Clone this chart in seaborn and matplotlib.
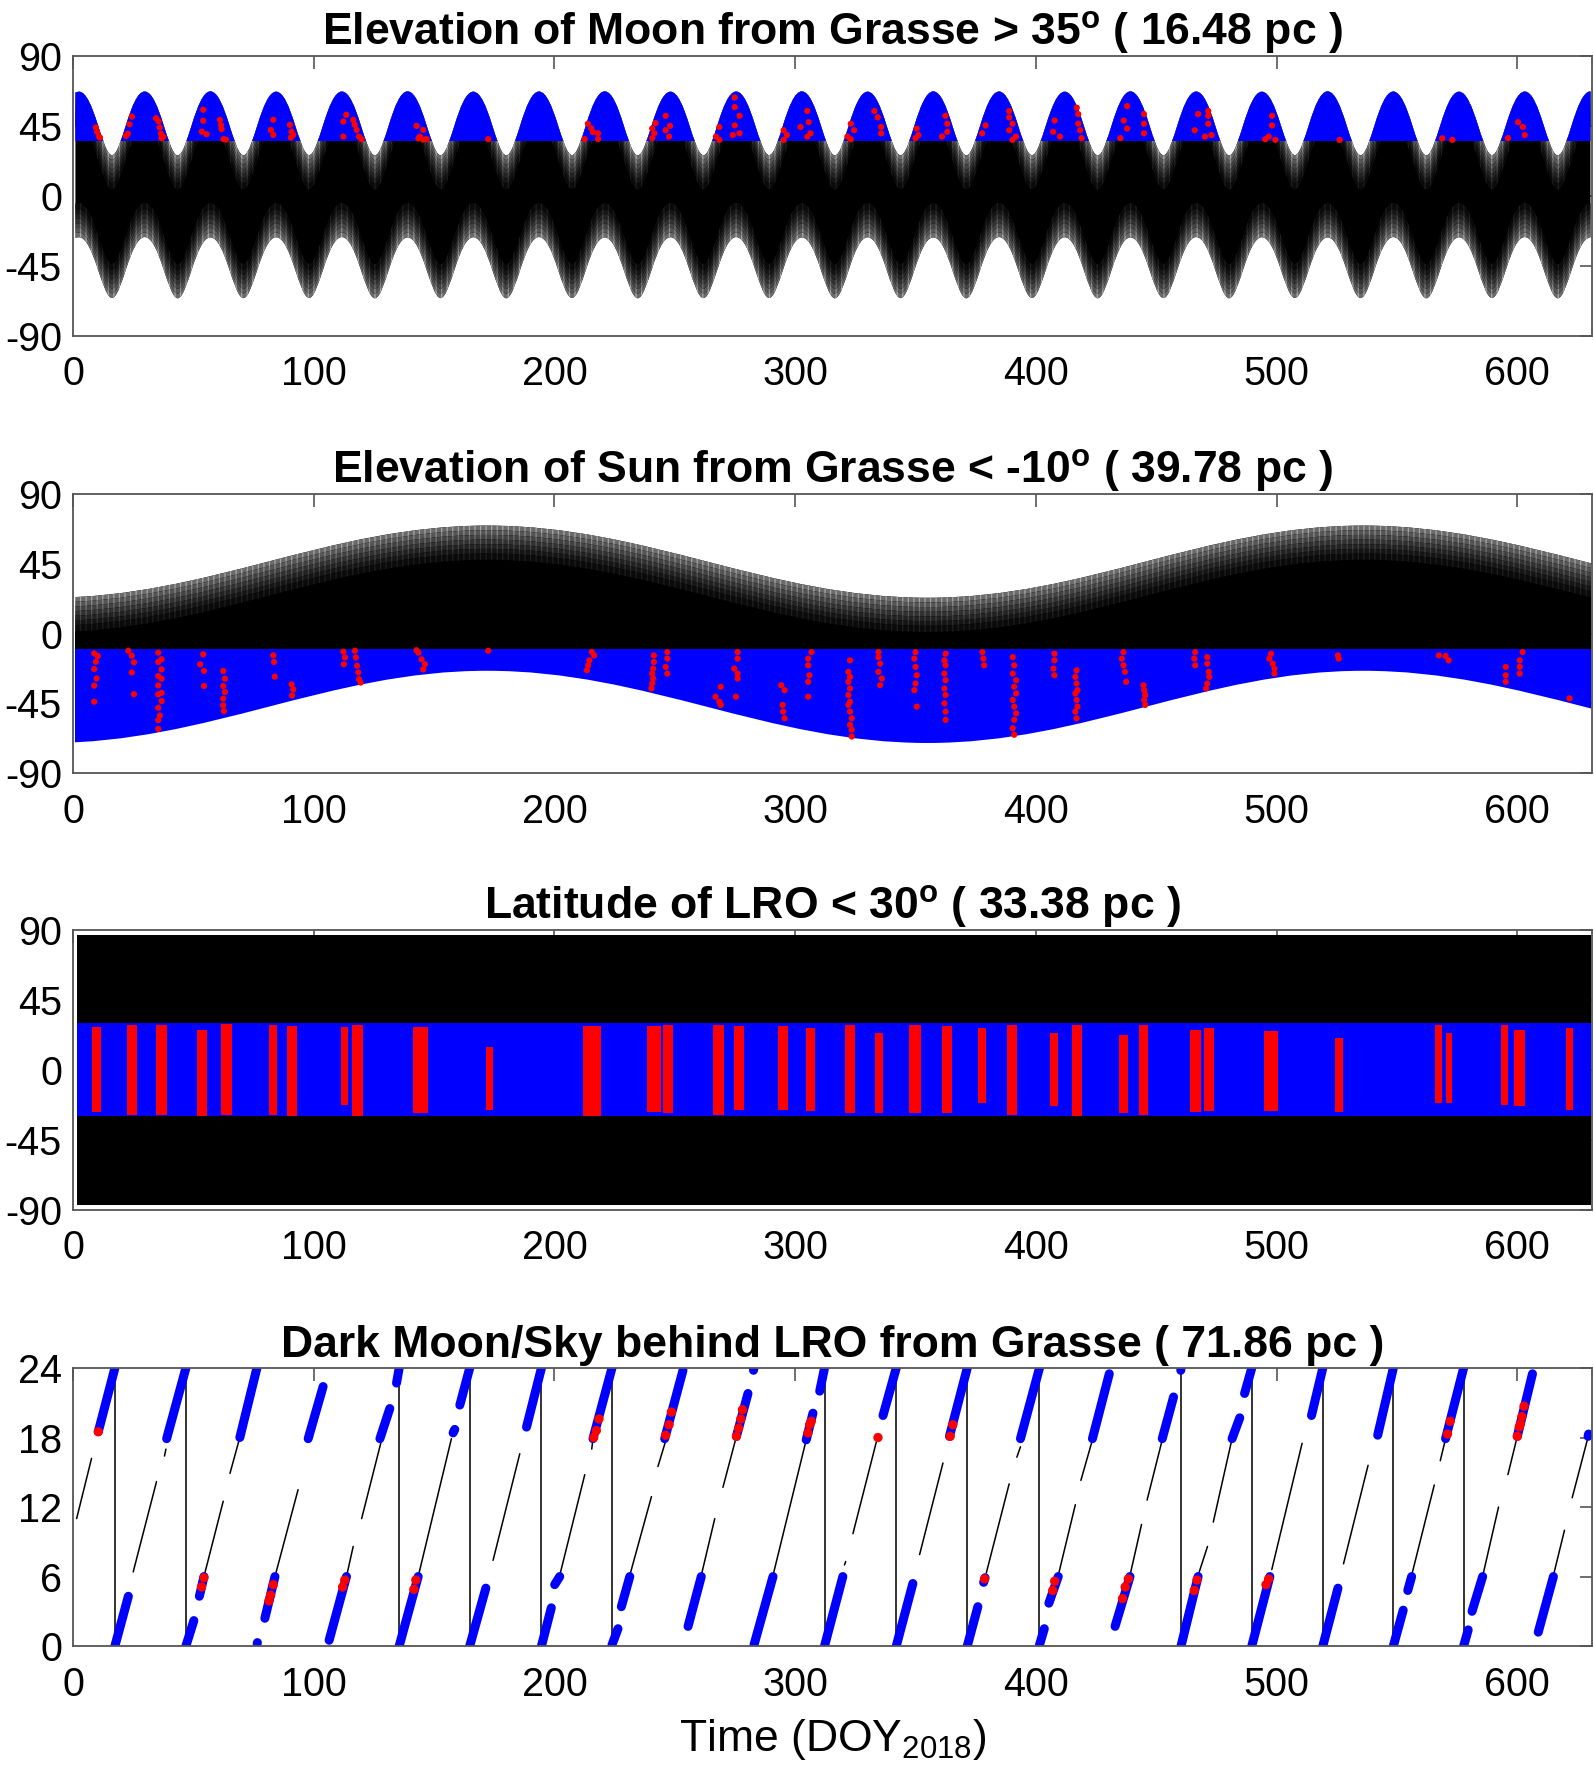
import matplotlib
matplotlib.use("Agg")
import matplotlib.pyplot as plt
import numpy as np
import pandas as pd
import seaborn as sns
from matplotlib.path import Path
from matplotlib.patches import PathPatch, Rectangle

# ------------------------------------------------------------------ data
# Panel 1 : Moon elevation, envelope extremes (day, deg)
moon_ext_t = [1.0, 2.5, 16.2, 29.8, 43.5, 57.1, 70.8, 84.4, 98.1, 111.7, 125.4, 139.0, 152.7,
              166.3, 180.0, 193.6, 207.3, 220.9, 234.6, 248.2, 261.9, 275.5, 289.2, 302.8,
              316.5, 330.1, 343.8, 357.4, 371.1, 384.7, 398.4, 412.0, 425.7, 439.3, 453.0,
              466.6, 480.3, 493.9, 507.6, 521.2, 534.9, 548.5, 562.2, 575.8, 589.5, 603.1,
              616.8, 630.4]
moon_upper = [66.5, 67.0, 26.2, 67.1, 26.0, 67.2, 26.1, 67.0, 26.2, 67.1, 26.0, 67.2, 26.1,
              67.0, 26.0, 67.1, 26.2, 67.2, 26.0, 67.0, 26.1, 67.1, 26.2, 67.2, 26.0, 67.0,
              26.1, 67.2, 26.0, 67.1, 26.2, 67.0, 26.0, 67.2, 26.1, 67.1, 26.0, 67.0, 26.2,
              67.2, 26.1, 67.1, 26.0, 67.0, 26.2, 67.1, 26.0, 67.2]
moon_lower = [-27.0, -26.7, -65.8, -26.6, -66.0, -26.8, -65.9, -26.7, -65.8, -26.6, -66.0,
              -26.8, -65.9, -26.7, -66.0, -26.6, -65.8, -26.8, -66.0, -26.7, -65.9, -26.6,
              -65.8, -26.8, -66.0, -26.7, -65.9, -26.8, -66.0, -26.6, -65.8, -26.7, -66.0,
              -26.8, -65.9, -26.6, -66.0, -26.7, -65.8, -26.8, -65.9, -26.6, -66.0, -26.7,
              -65.8, -26.6, -66.0, -26.8]
moon_limit = 35
moon_red_t = [9.5, 10.0, 10.8, 11.2, 24.5, 23.5, 22.8, 22.0, 34.5, 35.5, 36.0, 36.5, 37.5, 36.8,
              54.1, 54.1, 53.5, 55.5, 61.0, 61.7, 62.5, 63.5, 61.5,
              83.2, 82.2, 83.2, 90.1, 90.8, 91.5, 90.5,
              113.5, 112.3, 112.3, 116.4, 117.0, 117.8, 118.8, 119.9,
              142.7, 145.5, 144.1, 145.5, 146.9, 143.5, 172.5,
              213.9, 215.3, 218.1, 212.5, 218.1, 216.0,
              246.2, 242.0, 246.2, 240.6, 240.6, 247.6, 241.5, 248.0,
              274.9, 274.9, 276.9, 268.5, 274.9, 276.9, 267.1, 268.5, 274.1,
              305.0, 305.6, 302.2, 295.2, 296.6, 306.4, 305.0, 295.2,
              332.9, 334.3, 323.1, 324.5, 321.7, 335.7, 335.7, 323.1,
              350.5, 351.2, 362.4, 363.2, 363.2, 361.0, 350.0,
              379.1, 377.7, 388.9, 388.9, 390.3, 388.9, 391.7, 390.3,
              407.8, 407.2, 417.0, 417.6, 417.6, 418.4, 419.0, 410.0,
              437.9, 436.5, 437.9, 444.9, 444.9, 444.9, 435.1,
              467.4, 471.6, 471.6, 471.6, 466.0, 473.0, 470.2,
              498.1, 498.1, 496.7, 499.5, 495.3, 526.2, 568.8, 573.0,
              600.3, 602.3, 603.1, 596.1]
moon_red_el = [44.0, 41.0, 38.0, 37.5, 51.0, 46.0, 40.0, 38.5, 50.0, 48.0, 44.0, 40.0, 38.0, 37.0,
               55.4, 48.3, 41.3, 39.6, 48.9, 42.9, 36.5, 36.2, 45.5,
               48.9, 42.4, 39.2, 45.7, 41.3, 39.2, 37.5,
               52.2, 47.8, 38.1, 48.9, 45.7, 42.4, 38.1, 36.4,
               45.0, 42.4, 38.1, 36.2, 36.5, 37.0, 36.5,
               46.4, 43.3, 40.2, 36.5, 36.5, 41.0,
               51.5, 46.8, 42.2, 43.3, 37.1, 38.1, 40.2, 45.0,
               63.3, 57.1, 51.5, 44.3, 45.3, 40.2, 38.1, 36.0, 39.1,
               54.6, 47.4, 44.3, 42.2, 39.1, 40.2, 38.1, 36.0,
               54.6, 50.5, 46.4, 42.2, 38.1, 44.3, 40.2, 36.4,
               43.3, 39.1, 51.5, 46.4, 41.2, 38.1, 37.1,
               45.3, 40.2, 54.6, 50.5, 46.4, 42.2, 38.1, 36.0,
               48.4, 41.2, 56.7, 52.6, 46.4, 42.2, 37.1, 38.1,
               57.7, 48.4, 43.3, 52.6, 46.4, 40.2, 37.1,
               52.6, 54.6, 51.5, 46.4, 42.2, 39.1, 38.1,
               51.5, 45.3, 38.1, 36.0, 36.4, 36.0, 37.0, 36.0,
               47.4, 44.3, 39.1, 37.1]

# Panel 2 : Sun elevation, envelope extremes
sun_ext_t = [-10, 172, 355, 536, 720]
sun_upper = [23.0, 69.5, 23.0, 69.5, 23.0]
sun_lower = [-70.5, -24.0, -70.5, -24.0, -70.5]
sun_span = [0.8, 630.8]
sun_limit = -10
sun_red_t = [8.8, 10.3, 9.5, 8.8, 9.8, 8.8, 8.8, 23.0, 24.4, 25.3, 24.4, 25.3,
             35.4, 36.8, 35.4, 36.8, 35.4, 36.8, 35.4, 36.8, 35.4, 36.8, 35.4, 36.1, 35.4, 35.4,
             54.1, 52.8, 54.4, 54.4, 62.4, 63.1, 62.4, 63.1, 62.4, 62.4, 62.7,
             83.2, 83.5, 83.8, 90.8, 91.5, 91.0, 112.3, 113.0, 112.5,
             117.1, 117.5, 118.0, 118.5, 118.8, 119.5, 142.7, 143.5, 144.8, 146.2, 145.5, 172.5,
             215.5, 216.5, 214.5, 214.0, 213.5,
             241.3, 241.3, 241.0, 240.6, 241.0, 240.6, 240.3, 246.9, 246.9, 246.2, 246.9,
             276.1, 276.1, 274.7, 276.1, 276.1, 269.1, 266.9, 268.5, 269.1, 275.4,
             306.8, 305.4, 305.4, 305.9, 305.4, 305.4, 294.2, 295.6, 294.8, 295.0, 295.6,
             322.1, 322.8, 322.1, 322.8, 322.1, 322.8, 322.1, 322.8, 323.5, 322.8, 323.5, 323.5, 322.8,
             334.6, 334.6, 335.3, 334.6, 336.0, 335.3,
             350.0, 349.5, 350.0, 350.5, 350.0, 349.5, 350.5,
             362.5, 362.0, 362.5, 362.0, 362.5, 362.0, 362.5, 362.0, 362.5, 362.5,
             377.8, 378.2, 378.5,
             390.4, 391.0, 390.4, 391.8, 391.0, 391.8, 390.4, 391.0, 391.8, 391.0, 390.4, 391.0,
             407.7, 407.7, 407.3, 407.7,
             416.9, 416.4, 416.9, 417.3, 416.4, 416.9, 417.3, 416.4, 416.9,
             436.4, 435.7, 436.4, 437.0, 437.5, 444.7, 445.0, 445.4, 445.0, 445.4,
             466.2, 465.8, 466.2, 471.2, 471.2, 471.8, 472.0, 471.2, 470.7,
             497.7, 497.0, 498.4, 499.1, 499.1, 525.5, 525.8, 567.4, 571.5, 570.2,
             602.2, 601.0, 601.0, 595.2, 595.2, 595.2, 601.0, 621.7]
sun_red_el = [-12.8, -14.5, -18.2, -22.9, -28.9, -33.6, -43.9, -11.1, -14.3, -18.6, -25.1, -39.1,
              -12.3, -16.6, -18.3, -23.1, -27.4, -29.1, -33.4, -38.2, -39.2, -43.5, -47.8, -52.8, -55.8, -61.4,
              -13.4, -19.8, -24.1, -33.8, -24.1, -29.1, -33.8, -37.7, -42.0, -46.3, -50.0,
              -14.0, -18.3, -27.8, -32.8, -36.0, -39.9, -11.7, -15.4, -19.8,
              -11.1, -15.4, -20.8, -25.1, -29.4, -31.6, -10.8, -12.3, -16.6, -19.8, -23.1, -11.1,
              -11.9, -14.1, -17.3, -20.5, -23.7,
              -14.1, -18.3, -22.6, -25.8, -29.0, -32.2, -35.4, -12.0, -16.2, -21.5, -25.8,
              -12.0, -16.2, -22.6, -25.8, -29.0, -34.3, -40.7, -43.9, -46.0, -40.7,
              -12.0, -16.2, -20.5, -26.9, -31.1, -40.7, -33.3, -36.5, -46.0, -50.3, -54.6,
              -24.7, -27.9, -31.1, -35.4, -39.6, -43.9, -46.0, -50.3, -54.6, -58.8, -62.0, -66.3, -17.3,
              -12.0, -15.2, -19.4, -24.7, -29.0, -33.3,
              -12.0, -16.2, -21.5, -26.9, -32.2, -36.5, -47.1,
              -13.0, -17.3, -20.5, -25.8, -30.1, -35.4, -39.6, -45.0, -50.3, -55.6,
              -12.0, -16.2, -20.5,
              -15.2, -20.5, -25.8, -30.1, -34.3, -38.6, -42.8, -47.1, -51.4, -55.6, -61.0, -65.2,
              -13.0, -17.3, -22.6, -26.9,
              -23.7, -27.9, -32.2, -36.5, -38.6, -42.8, -47.1, -50.3, -54.6,
              -12.0, -16.2, -20.5, -24.7, -31.1, -33.3, -36.5, -39.6, -42.8, -46.0,
              -12.0, -16.2, -20.5, -15.2, -19.4, -24.7, -27.9, -32.2, -35.4,
              -13.0, -16.2, -19.4, -22.6, -25.8, -14.1, -16.2, -14.1, -17.3, -14.5,
              -12.0, -17.3, -21.5, -21.5, -26.9, -31.1, -25.8, -41.8]

# Panel 3 : LRO latitude
lro_span_t = [1.5, 630.5]
lro_extent = 86.8
lro_limit = 30
lro_red_t0 = [7.7, 22.3, 34.5, 51.4, 61.5, 81.5, 89.1, 111.3, 116.1, 141.3, 171.5, 212.0, 238.5,
              244.9, 265.8, 274.7, 292.8, 304.5, 320.7, 333.3, 347.2, 361.1, 375.9, 388.2,
              405.7, 414.9, 434.4, 442.8, 464.2, 469.8, 494.9, 524.2, 566.0, 570.2, 593.3,
              598.6, 620.3]
lro_red_t1 = [11.6, 26.4, 38.9, 55.5, 65.9, 84.6, 93.1, 114.3, 120.5, 147.5, 174.5, 219.5, 244.1,
              249.1, 270.5, 278.9, 297.0, 308.2, 324.9, 336.6, 352.2, 365.3, 379.2, 392.3,
              409.1, 419.1, 438.3, 446.4, 468.4, 474.0, 500.5, 527.5, 568.8, 573.0, 596.1,
              603.0, 623.1]
lro_red_lo = [-27.0, -29.0, -29.0, -30.0, -29.0, -29.0, -30.0, -22.5, -30.0, -27.9, -25.7, -29.5,
              -27.4, -27.8, -28.9, -25.7, -25.7, -26.8, -27.8, -27.8, -27.8, -27.8, -21.4, -28.9,
              -23.5, -29.5, -27.8, -28.9, -27.4, -26.8, -26.8, -27.4, -21.4, -21.4, -22.5,
              -23.5, -25.7]
lro_red_hi = [27.8, 28.9, 28.9, 25.7, 29.5, 28.9, 28.3, 27.8, 28.9, 27.8, 15.0, 27.9, 28.3,
              29.0, 29.0, 28.3, 27.9, 26.8, 29.0, 23.6, 29.0, 27.9, 26.8, 29.0, 23.6, 29.0,
              22.5, 29.0, 25.7, 26.8, 24.7, 20.4, 29.0, 23.6, 29.0, 25.7, 26.8]

# Panel 4 : dark Moon/sky (hour); segments as (t0, h0, t1, h1)
dark_wrap_t = [17.4, 46.9, 135.5, 164.8, 194.6, 223.9, 312.2, 342.0, 371.5, 401.5,
               460.3, 489.7, 519.2, 548.5, 577.7]
dark_blue_segments = [
    (10.5, 18.5, 17.4, 24.0), (17.4, 0.0, 23.0, 4.3), (38.9, 17.9, 46.9, 24.0),
    (46.9, 0.0, 50.2, 2.2), (52.5, 4.3, 54.4, 6.0), (69.3, 18.0, 76.4, 24.0),
    (76.5, 0.2, 76.6, 0.3), (79.7, 2.4, 83.9, 6.0), (97.7, 17.9, 103.9, 22.4),
    (106.4, 0.5, 113.6, 6.0), (127.5, 17.9, 131.6, 20.5), (134.4, 22.7, 135.5, 24.0),
    (135.5, 0.0, 143.4, 6.0), (157.9, 18.4, 158.6, 18.7), (160.7, 20.8, 164.8, 24.0),
    (164.8, 0.0, 171.5, 5.0), (188.4, 18.9, 194.6, 24.0), (194.6, 0.0, 198.7, 3.3),
    (200.1, 5.3, 202.2, 6.0), (216.0, 17.9, 223.9, 24.0), (223.9, 0.1, 226.4, 1.5),
    (227.8, 3.4, 231.3, 6.0), (245.8, 17.9, 253.4, 23.8), (255.5, 1.7, 261.0, 6.0),
    (275.6, 18.1, 280.4, 21.8), (282.7, 23.8, 282.9, 24.0), (282.9, 0.1, 290.8, 6.0),
    (304.6, 17.8, 307.4, 20.1), (310.2, 22.0, 312.2, 24.0), (312.2, 0.0, 319.8, 6.0),
    (336.5, 19.9, 342.0, 24.0), (342.0, 0.0, 348.9, 5.4), (364.1, 18.1, 371.5, 24.0),
    (371.5, 0.0, 375.9, 3.4), (378.3, 5.5, 378.9, 5.9), (393.6, 17.9, 401.5, 24.0),
    (401.5, 0.1, 403.5, 1.5), (405.4, 3.7, 409.3, 6.0), (423.5, 17.9, 430.5, 23.5),
    (432.9, 1.7, 439.1, 6.0), (452.5, 17.9, 457.2, 21.5), (460.2, 23.8, 460.3, 24.0),
    (460.3, 0.0, 467.4, 6.0), (481.5, 17.9, 484.7, 19.7), (486.7, 21.8, 489.7, 24.0),
    (489.7, 0.0, 497.2, 6.0), (514.5, 19.9, 519.2, 24.0), (519.2, 0.0, 525.5, 5.0),
    (542.0, 18.2, 548.5, 24.0), (548.5, 0.0, 552.6, 3.1), (554.5, 4.8, 556.1, 6.0),
    (570.2, 17.9, 577.7, 24.0), (577.7, 0.0, 579.6, 1.4), (581.2, 3.0, 585.6, 6.0),
    (600.0, 18.1, 606.3, 23.5), (608.7, 1.2, 615.0, 6.0), (629.4, 18.1, 629.6, 18.3)]
dark_black_segments = [
    (1.5, 11.0, 7.7, 16.2), (25.0, 6.4, 34.7, 14.2), (38.0, 16.4, 38.6, 17.0),
    (54.4, 6.0, 62.4, 12.5), (65.2, 14.9, 69.3, 18.0), (83.9, 6.0, 93.5, 13.5),
    (113.6, 6.0, 116.4, 8.6), (119.9, 11.0, 128.2, 17.8), (143.4, 6.0, 157.2, 17.9),
    (174.5, 7.4, 185.6, 16.6), (202.2, 6.1, 212.6, 14.8), (215.5, 17.0, 216.0, 17.9),
    (231.3, 6.1, 240.3, 12.9), (243.0, 15.5, 246.5, 17.9), (261.0, 6.1, 266.6, 11.0),
    (270.0, 13.7, 275.6, 18.1), (290.8, 6.1, 304.6, 17.8), (320.5, 7.0, 321.0, 7.3),
    (324.0, 9.7, 333.7, 17.6), (351.7, 7.9, 361.4, 15.8), (379.4, 6.3, 388.9, 14.0),
    (392.1, 16.3, 393.6, 17.2), (409.3, 6.1, 416.4, 12.2), (418.7, 14.3, 423.5, 17.8),
    (439.1, 6.1, 443.9, 10.5), (446.2, 12.6, 452.5, 17.8), (467.4, 6.1, 471.3, 8.6),
    (473.7, 10.7, 481.5, 17.9), (498.0, 6.6, 510.6, 17.5), (527.8, 7.1, 538.0, 15.6),
    (556.1, 6.1, 565.5, 13.9), (568.0, 16.0, 570.2, 17.9), (585.9, 6.3, 592.2, 12.0),
    (596.1, 14.8, 600.0, 18.1), (615.0, 6.1, 619.6, 10.0), (622.8, 12.8, 629.6, 18.2)]
dark_red_t = [10.5, 54.4, 53.4, 83.2, 82.1, 81.4, 112.9, 112.0, 142.4, 141.6, 216.3, 217.4, 218.5,
              246.2, 247.6, 248.6, 275.6, 276.5, 277.4, 278.1, 305.3, 306.0, 306.7, 334.4,
              364.4, 365.5, 378.7, 407.8, 407.0, 438.4, 437.1, 436.0, 466.9, 465.8, 496.7,
              495.6, 571.0, 572.1, 600.0, 600.8, 601.3, 601.9, 602.8]
dark_red_h = [18.5, 5.9, 5.1, 5.3, 4.4, 3.9, 5.7, 5.1, 5.7, 4.9, 18.0, 18.6, 19.6,
              18.2, 19.1, 20.2, 18.1, 18.8, 19.6, 20.4, 18.4, 19.1, 19.4, 18.0,
              18.1, 19.1, 5.8, 5.6, 4.8, 5.8, 5.1, 4.1, 5.7, 4.8, 5.8,
              5.3, 18.3, 19.4, 18.1, 18.9, 19.2, 19.8, 20.7]

titles = [r"Elevation of Moon from Grasse > 35$^{\mathbf{o}}$ ( 16.48 pc )",
          r"Elevation of Sun from Grasse < -10$^{\mathbf{o}}$ ( 39.78 pc )",
          r"Latitude of LRO < 30$^{\mathbf{o}}$ ( 33.38 pc )",
          "Dark Moon/Sky behind LRO from Grasse ( 71.86 pc )"]
x_label = r"Time (DOY$_{\mathrm{2018}}$)"
x_ticks = [0, 100, 200, 300, 400, 500, 600]
angle_ticks = [-90, -45, 0, 45, 90]
hour_ticks = [0, 6, 12, 18, 24]

assert len(moon_ext_t) == len(moon_upper) == len(moon_lower)
assert len(moon_red_t) == len(moon_red_el)
assert len(sun_red_t) == len(sun_red_el)

# ------------------------------------------------------------------ style
sns.set_style("white")
plt.rcParams.update({
    "font.family": ["Liberation Sans", "DejaVu Sans"],
    "mathtext.fontset": "custom",
    "mathtext.rm": "Liberation Sans",
    "mathtext.it": "Liberation Sans:italic",
    "mathtext.bf": "Liberation Sans:bold",
    "axes.unicode_minus": False,
    "hatch.linewidth": 0.9,
    "text.color": "black",
    "axes.labelcolor": "black",
})

BLUE = "#0000ff"
SPINE = "#555555"


def chain(ts, ys, hs):
    verts = [(ts[0], ys[0])]
    codes = [Path.MOVETO]
    for i in range(len(ts) - 1):
        dt = ts[i + 1] - ts[i]
        verts += [(ts[i] + hs[i] * dt, ys[i]), (ts[i + 1] - hs[i + 1] * dt, ys[i + 1]),
                  (ts[i + 1], ys[i + 1])]
        codes += [Path.CURVE4] * 3
    return verts, codes


def band_path(ts, top, bot, hs):
    v1, c1 = chain(ts, top, hs)
    v2, _ = chain(ts, bot, hs)
    v2 = v2[::-1]
    c2 = [Path.LINETO] + [Path.CURVE4] * (len(v2) - 1)
    return Path(v1 + v2 + [v1[0]], c1 + c2 + [Path.CLOSEPOLY])


def add_band(ax, path, clip, face, hatch=None, hcolor=None, z=1):
    kw = dict(facecolor=face, lw=0, transform=ax.transData, zorder=z)
    if hatch:
        kw.update(edgecolor=hcolor, hatch=hatch)
    else:
        kw.update(edgecolor="none")
    p = PathPatch(path, **kw)
    ax.add_patch(p)
    x0, x1, y0, y1 = clip
    p.set_clip_path(Rectangle((x0, y0), x1 - x0, y1 - y0, transform=ax.transData))
    return p


def style(ax, yticks, ylim, title):
    ax.set_xlim(0, 631)
    ax.set_ylim(*ylim)
    ax.set_xticks(x_ticks)
    ax.set_yticks(yticks)
    ax.tick_params(direction="in", length=9, width=1.2, color=SPINE, top=True, right=True,
                   labelsize=28.5, labelcolor="black")
    ax.tick_params(axis="x", pad=14)
    ax.tick_params(axis="y", pad=8)
    for s in ax.spines.values():
        s.set_color(SPINE)
        s.set_linewidth(1.3)
        s.set_zorder(10)
    ax.set_title(title, fontsize=32, fontweight="bold", pad=8, color="black")
    ax.set_xlabel("")
    ax.set_ylabel("")


fig = plt.figure(figsize=(15.94, 17.78), dpi=100)
ax1 = fig.add_axes([0.0458, 0.8113, 0.9529, 0.1572])
ax2 = fig.add_axes([0.0458, 0.5651, 0.9529, 0.1572])
ax3 = fig.add_axes([0.0458, 0.3197, 0.9529, 0.1572])
ax4 = fig.add_axes([0.0458, 0.0742, 0.9529, 0.1564])

# fringe layers (offset inward from the envelope, face colour, stripe colour)
fringe = [(0, 3, "#6a6a6a", "#a8a8a8"), (3, 6, "#555555", "#8c8c8c"),
          (6, 9, "#424242", "#707070"), (9, 12, "#313131", "#585858"),
          (12, 15, "#222222", "#444444"), (15, 18, "#151515", "#303030"),
          (18, 22, "#0a0a0a", "#1e1e1e")]

# ---------------- panel 1
hs_moon = [0.3] + [0.45 if i % 2 == 0 else 0.3 for i in range(len(moon_ext_t) - 1)]
full = (-10, 700, -90, 90)
add_band(ax1, band_path(moon_ext_t, moon_upper, moon_lower, hs_moon), full, "black", z=1)
for a, b, fc, hc in fringe:
    up_a = [v - a for v in moon_upper]
    up_b = [v - b for v in moon_upper]
    add_band(ax1, band_path(moon_ext_t, up_a, up_b, hs_moon), full, fc, "|||", hc, z=2)
    lo_a = [v + a for v in moon_lower]
    lo_b = [v + b for v in moon_lower]
    add_band(ax1, band_path(moon_ext_t, lo_b, lo_a, hs_moon), full, fc, "|||", hc, z=2)
add_band(ax1, band_path(moon_ext_t, moon_upper, moon_lower, hs_moon),
         (-10, 700, moon_limit, 90), BLUE, z=3)
sns.scatterplot(x=moon_red_t, y=moon_red_el, ax=ax1, color="red", s=20, marker="o",
                edgecolor="none", zorder=4, legend=False)
style(ax1, angle_ticks, (-90, 90), titles[0])

# ---------------- panel 2
hs_sun = [0.3642] * len(sun_ext_t)
sun_clip_hi = (sun_span[0], sun_span[1], sun_limit, 90)
sun_clip_lo = (sun_span[0], sun_span[1], -90, sun_limit)
add_band(ax2, band_path(sun_ext_t, sun_upper, sun_lower, hs_sun), sun_clip_hi, "black", z=1)
for a, b, fc, hc in fringe:
    up_a = [v - a for v in sun_upper]
    up_b = [v - b for v in sun_upper]
    add_band(ax2, band_path(sun_ext_t, up_a, up_b, hs_sun), sun_clip_hi, fc, "|||", hc, z=2)
add_band(ax2, band_path(sun_ext_t, sun_upper, sun_lower, hs_sun), sun_clip_lo, BLUE, z=3)
sns.scatterplot(x=sun_red_t, y=sun_red_el, ax=ax2, color="red", s=20, marker="o",
                edgecolor="none", zorder=4, legend=False)
style(ax2, angle_ticks, (-90, 90), titles[1])

# ---------------- panel 3
ax3.fill_between(lro_span_t, [-lro_extent] * 2, [lro_extent] * 2, color="black", lw=0, zorder=1)
ax3.fill_between(lro_span_t, [-lro_limit] * 2, [lro_limit] * 2, color=BLUE, lw=0, zorder=2)
ax3.bar(x=lro_red_t0, height=np.array(lro_red_hi) - np.array(lro_red_lo),
        width=np.array(lro_red_t1) - np.array(lro_red_t0), bottom=lro_red_lo,
        align="edge", color="red", lw=0, zorder=3)
style(ax3, angle_ticks, (-90, 90), titles[2])


# ---------------- panel 4
def seg_frame(segs):
    rows = []
    for k, (t0, h0, t1, h1) in enumerate(segs):
        rows.append((k, t0, h0))
        rows.append((k, t1, h1))
    return pd.DataFrame(rows, columns=["seg", "t", "h"])


ax4.vlines(dark_wrap_t, 0, 24, color="#333333", lw=1.4, zorder=1)
sns.lineplot(data=seg_frame(dark_black_segments), x="t", y="h", units="seg", estimator=None,
             sort=False, color="black", lw=1.1, ax=ax4, legend=False, zorder=2)
sns.lineplot(data=seg_frame(dark_blue_segments), x="t", y="h", units="seg", estimator=None,
             sort=False, color=BLUE, lw=6.5, solid_capstyle="round", ax=ax4, legend=False,
             zorder=3)
sns.scatterplot(x=dark_red_t, y=dark_red_h, ax=ax4, color="red", s=45, marker="o",
                edgecolor="none", zorder=4, legend=False)
style(ax4, hour_ticks, (0, 24), titles[3])
ax4.set_xlabel(x_label, fontsize=32, labelpad=10)

fig.savefig("out.png", dpi=100)
